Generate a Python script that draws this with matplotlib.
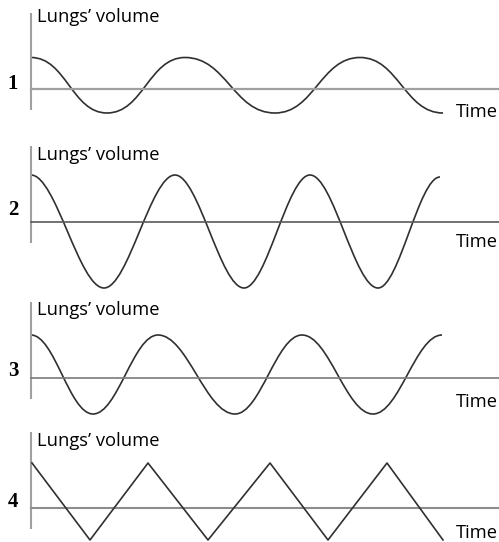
import numpy as np
import matplotlib.pyplot as plt
from matplotlib.path import Path
from matplotlib.patches import PathPatch

# turning points of each breathing curve (time, volume relative to baseline)
panel_ids = ['1', '2', '3', '4']
t1 = [0, 7.6, 15.4, 24.4, 32.9, 41.2]
v1 = [3.1, -2.45, 3.1, -2.45, 3.1, -2.45]
t2 = [0, 7.3, 14.4, 21.3, 27.9, 34.7, 40.9]
v2 = [4.7, -6.6, 4.7, -6.6, 4.7, -6.6, 4.5]
t3 = [0, 6.2, 12.7, 20.4, 27.1, 34.2, 41.1]
v3 = [4.3, -3.6, 4.3, -3.6, 4.3, -3.6, 4.3]
t4 = [0.1, 5.9, 11.7, 17.7, 23.9, 29.7, 35.6, 41.2]
v4 = [4.5, -3.2, 4.5, -3.2, 4.5, -3.2, 4.5, -3.2]
times = [t1, t2, t3, t4]
vols = [v1, v2, v3, v4]
y_label = 'Lungs’ volume'
x_label = 'Time'

# layout (pixels of the 499x542 image)
W, H = 499, 542
bands = [(0, 128), (128, 295), (295, 425), (425, 542)]
base_px = [88.5, 222, 378, 508]
smooth = [0.46, 0.34, 0.38, None]   # None -> straight segments
base_col = ['#a0a0a0', '#5a5a5a', '#7a7a7a', '#8c8c8c']
base_lw = [1.6, 1.2, 1.2, 1.5]
ylab_v = [7.1, 6.7, 6.8, 6.7]
num_v = [0.45, 1.2, 0.7, 0.6]
time_v = [-2.35, -2.0, -2.4, -2.5]

fig = plt.figure(figsize=(W / 100, H / 100), dpi=100)
fig.patch.set_facecolor('white')

for i in range(4):
    top, bot = bands[i]
    ax = fig.add_axes([0, 1 - bot / H, 1, (bot - top) / H])
    ax.set_xlim(-3.1, (W - 31) / 10)
    ax.set_ylim((base_px[i] - bot) / 10, (base_px[i] - top) / 10)
    ax.axis('off')

    # axes of the sketch
    ax.plot([0, 0], [-2.1, 7.6], color='#a0a0a0', lw=1.5, solid_capstyle='butt')
    ax.plot([0, 50], [0, 0], color=base_col[i], lw=base_lw[i])

    t, v = times[i], vols[i]
    if smooth[i] is None:
        ax.plot(t, v, color='#303030', lw=1.2)
    else:
        k = smooth[i]
        verts = [(t[0], v[0])]
        codes = [Path.MOVETO]
        for j in range(len(t) - 1):
            dx = t[j + 1] - t[j]
            verts += [(t[j] + k * dx, v[j]), (t[j + 1] - k * dx, v[j + 1]), (t[j + 1], v[j + 1])]
            codes += [Path.CURVE4] * 3
        ax.add_patch(PathPatch(Path(verts, codes), fill=False, edgecolor='#303030', lw=1.2))

    ax.text(0.6, ylab_v[i], y_label, fontsize=13.2, family='Open Sans', va='center', ha='left', color='black')
    ax.text(46.7, time_v[i], x_label, fontsize=13.2, family='Open Sans', va='center', ha='right', color='black')
    ax.text(-1.8, num_v[i], panel_ids[i], fontsize=15, family='Liberation Serif', weight='bold', va='center', ha='center')

fig.savefig('out.png', dpi=100)
